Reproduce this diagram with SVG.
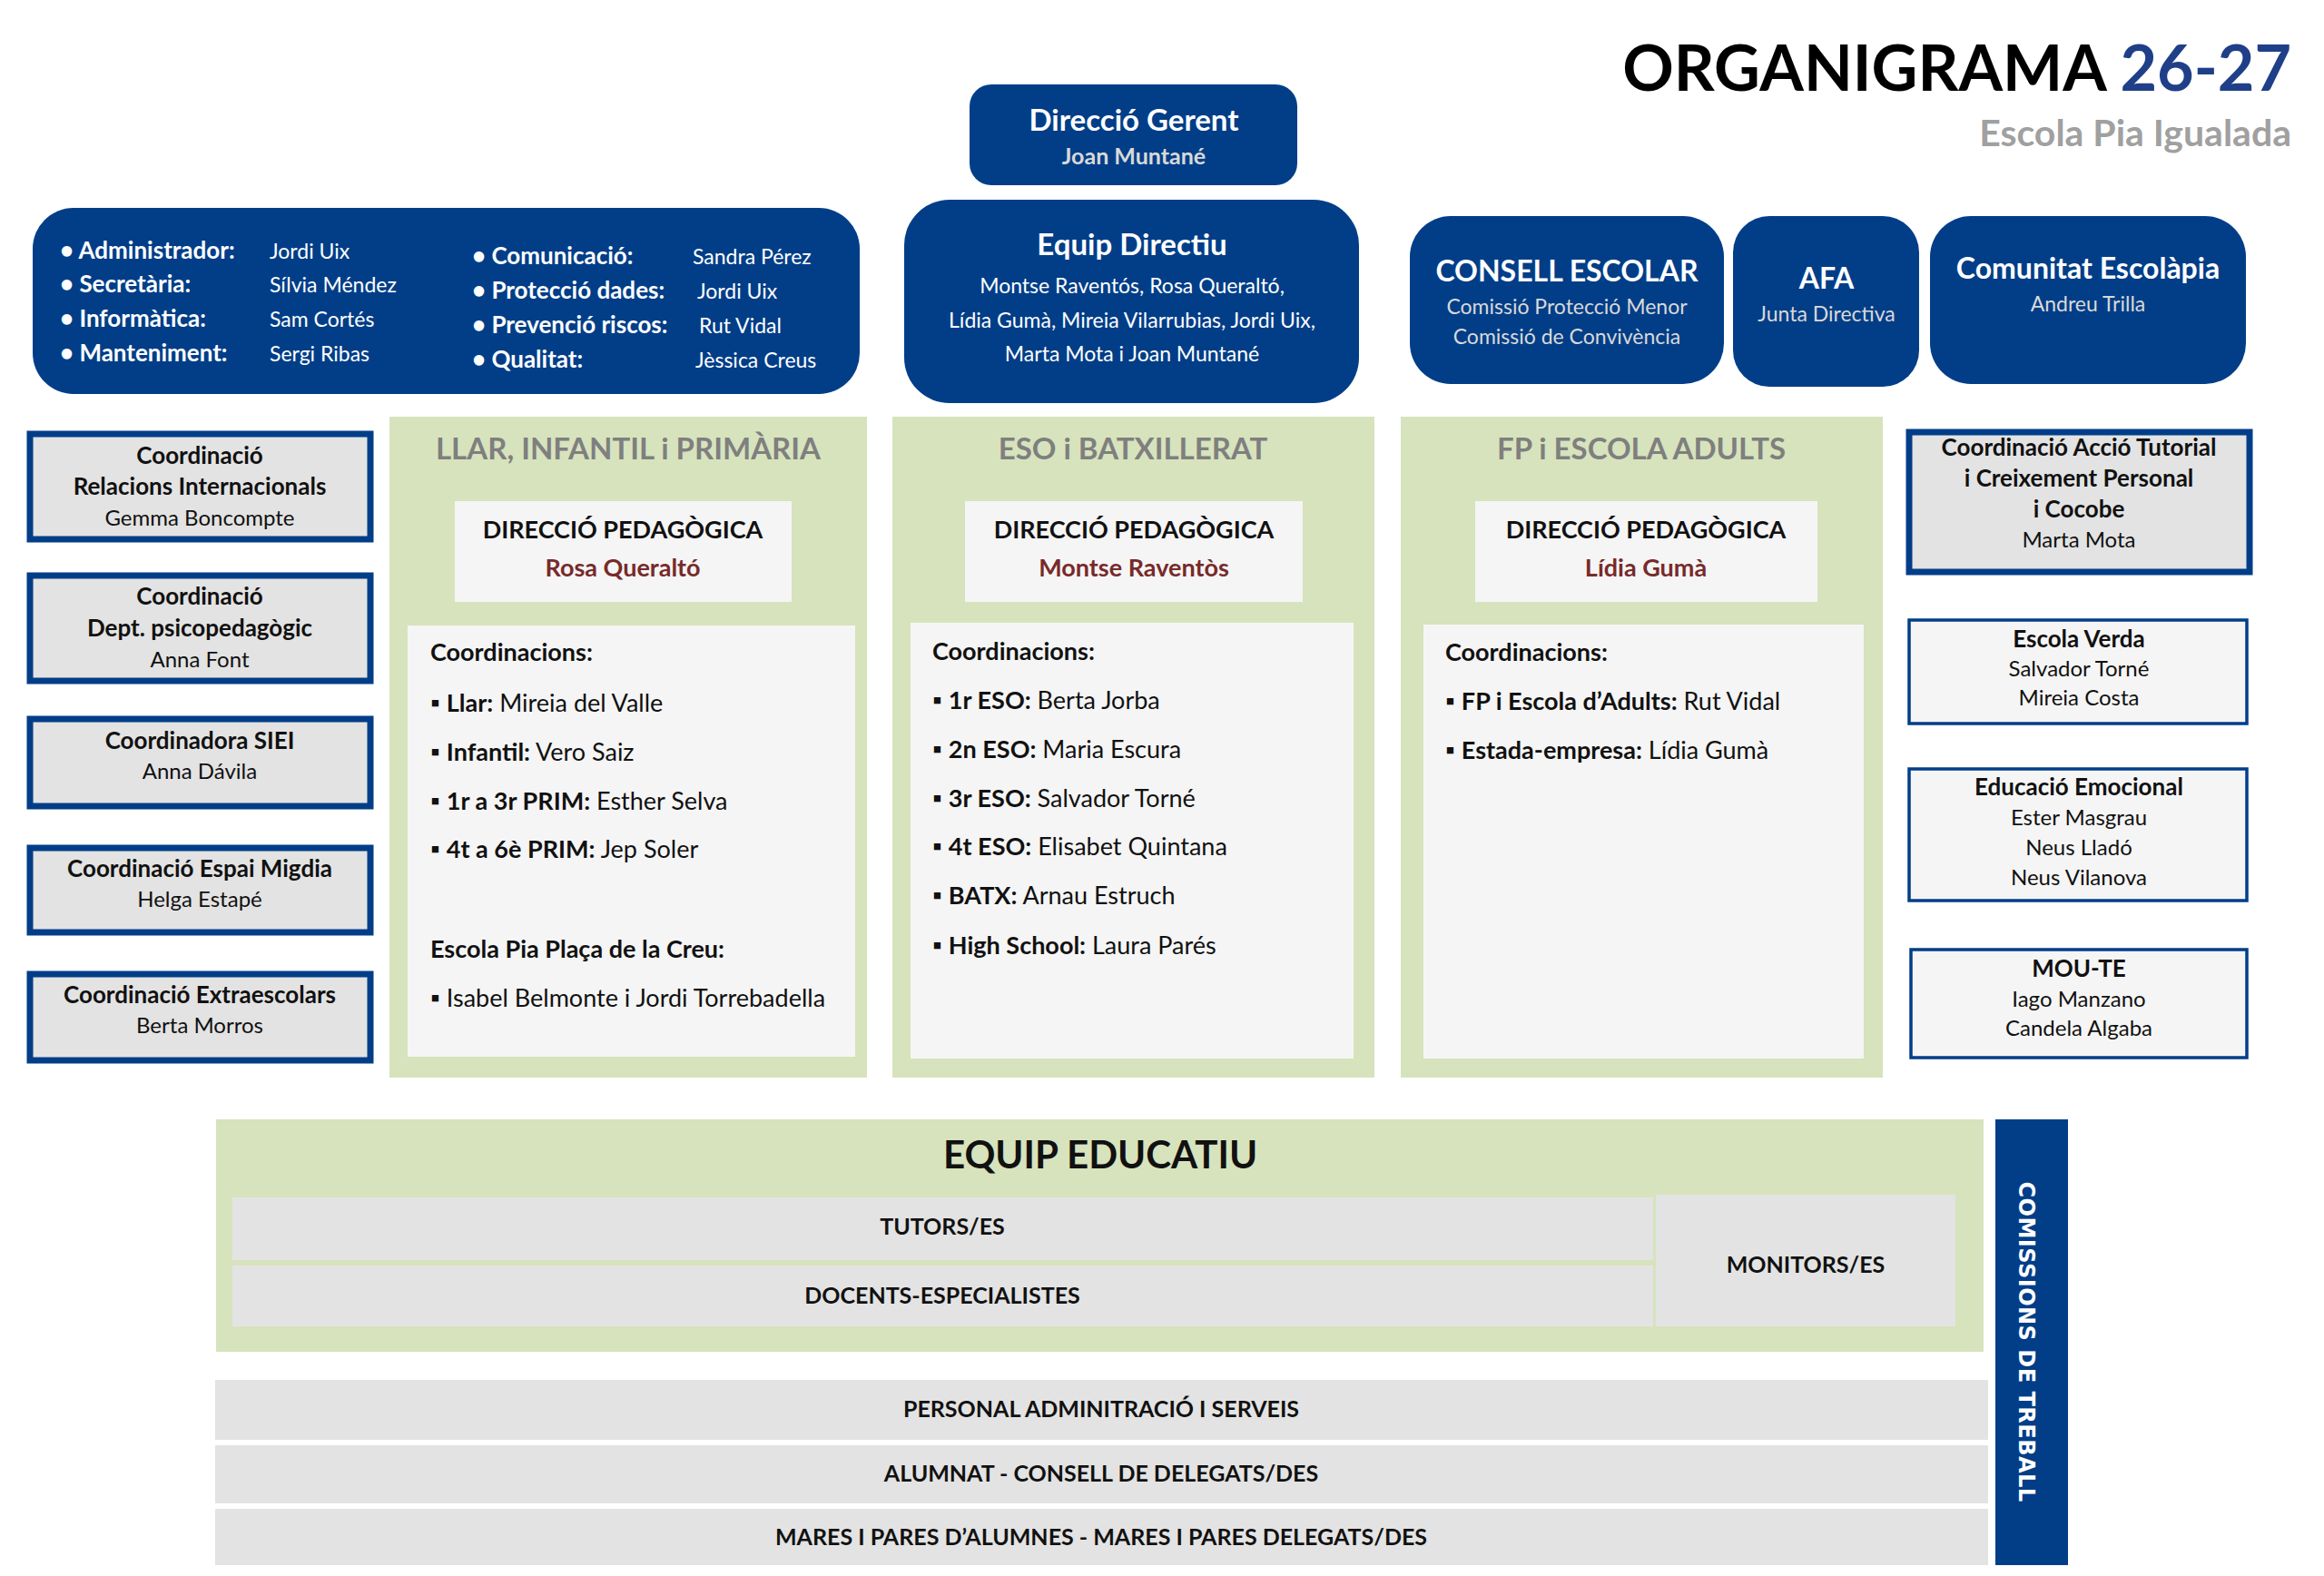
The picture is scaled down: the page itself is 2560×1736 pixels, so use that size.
<svg xmlns="http://www.w3.org/2000/svg" width="2560" height="1736" viewBox="0 0 2560 1736">
<style>
text{font-family:Lato,"Liberation Sans",sans-serif}
.blue{fill:#023e88}
.w{fill:#fff}
.lg{fill:#d9d9d9}
.b{font-weight:bold}
.c{text-anchor:middle}
.green{fill:#d7e3bc}
.pan{fill:#f5f5f5}
.hd{fill:#7f7f7f;font-weight:bold;font-size:33px;text-anchor:middle}
.dp{font-weight:bold;font-size:27px;text-anchor:middle;fill:#111}
.dn{font-weight:bold;font-size:27px;text-anchor:middle;fill:#772a2a}
.it{font-size:27px;fill:#111}
.lc{fill:#e3e3e3;stroke:#023e88;stroke-width:7}
.rc{fill:#f5f5f5;stroke:#023e88;stroke-width:3.5}
.bt{font-size:26px;font-weight:bold;fill:#111;text-anchor:middle}
.nt{font-size:24px;fill:#111;text-anchor:middle}
.gr{fill:#e3e3e3}
.bar{font-size:25px;font-weight:bold;fill:#111;text-anchor:middle}
</style>
<rect width="2560" height="1736" fill="#fff"/>
<g id="title">
<text x="2524" y="100" font-size="70" font-weight="bold" text-anchor="end" fill="#000">ORGANIGRAMA <tspan fill="#1f3f88">26-27</tspan></text>
<text x="2524" y="161" font-size="41" font-weight="bold" text-anchor="end" fill="#a0a0a0">Escola Pia Igualada</text>
</g>
<g id="direccio-gerent">
<rect x="1068" y="93" width="361" height="111" rx="24" class="blue"/>
<text x="1249" y="144" font-size="33" class="w b c">Direcció Gerent</text>
<text x="1249" y="181" font-size="25" class="lg b c">Joan Muntané</text>
</g>
<g id="administracio">
<rect x="36" y="229" width="911" height="205" rx="45" class="blue"/>
<g font-size="26" class="w b">
<text x="66" y="285">• Administrador:</text>
<text x="66" y="322">• Secretària:</text>
<text x="66" y="360">• Informàtica:</text>
<text x="66" y="398">• Manteniment:</text>
<text x="520" y="291">• Comunicació:</text>
<text x="520" y="329">• Protecció dades:</text>
<text x="520" y="367">• Prevenció riscos:</text>
<text x="520" y="405">• Qualitat:</text>
</g>
<g font-size="23" class="w">
<text x="297" y="285">Jordi Uix</text>
<text x="297" y="322">Sílvia Méndez</text>
<text x="297" y="360">Sam Cortés</text>
<text x="297" y="398">Sergi Ribas</text>
<text x="763" y="291">Sandra Pérez</text>
<text x="768" y="329">Jordi Uix</text>
<text x="770" y="367">Rut Vidal</text>
<text x="766" y="405">Jèssica Creus</text>
</g>
</g>
<g id="equip-directiu">
<rect x="996" y="220" width="501" height="224" rx="50" class="blue"/>
<text x="1247" y="281" font-size="33" class="w b c">Equip Directiu</text>
<text x="1247" y="323" font-size="23" class="w c">Montse Raventós,  Rosa Queraltó,</text>
<text x="1247" y="361" font-size="23" class="w c">Lídia Gumà, Mireia Vilarrubias, Jordi Uix,</text>
<text x="1247" y="398" font-size="23" class="w c">Marta Mota i Joan Muntané</text>
</g>
<g id="consell-escolar">
<rect x="1553" y="238" width="346" height="185" rx="45" class="blue"/>
<text x="1726" y="310" font-size="32" class="w b c">CONSELL ESCOLAR</text>
<text x="1726" y="346" font-size="23" class="lg c">Comissió Protecció Menor</text>
<text x="1726" y="379" font-size="23" class="lg c">Comissió de Convivència</text>
</g>
<g id="afa">
<rect x="1909" y="238" width="205" height="188" rx="40" class="blue"/>
<text x="2012" y="318" font-size="32" class="w b c">AFA</text>
<text x="2012" y="354" font-size="23" class="lg c">Junta Directiva</text>
</g>
<g id="comunitat">
<rect x="2126" y="238" width="348" height="185" rx="45" class="blue"/>
<text x="2300" y="307" font-size="32" class="w b c">Comunitat Escolàpia</text>
<text x="2300" y="343" font-size="23" class="lg c">Andreu Trilla</text>
</g>
<g id="llar">
<rect x="429" y="459" width="526" height="728" class="green"/>
<text x="692" y="506" class="hd">LLAR, INFANTIL i PRIMÀRIA</text>
<rect x="501" y="552" width="371" height="111" class="pan"/>
<text x="686" y="593" class="dp">DIRECCIÓ PEDAGÒGICA</text>
<text x="686" y="635" class="dn">Rosa Queraltó</text>
<rect x="449" y="689" width="493" height="475" class="pan"/>
<g class="it">
<text x="474" y="728" font-weight="bold">Coordinacions:</text>
<text x="474" y="784">▪ <tspan font-weight="bold">Llar:</tspan> Mireia del Valle</text>
<text x="474" y="838">▪ <tspan font-weight="bold">Infantil:</tspan> Vero Saiz</text>
<text x="474" y="892">▪ <tspan font-weight="bold">1r a 3r PRIM:</tspan> Esther Selva</text>
<text x="474" y="945">▪ <tspan font-weight="bold">4t a 6è PRIM:</tspan>  Jep Soler</text>
<text x="474" y="1055" font-weight="bold">Escola Pia Plaça de la Creu:</text>
<text x="474" y="1109">▪ Isabel Belmonte i Jordi Torrebadella</text>
</g>
</g>
<g id="eso">
<rect x="983" y="459" width="531" height="728" class="green"/>
<text x="1248" y="506" class="hd">ESO i BATXILLERAT</text>
<rect x="1063" y="552" width="372" height="111" class="pan"/>
<text x="1249" y="593" class="dp">DIRECCIÓ PEDAGÒGICA</text>
<text x="1249" y="635" class="dn">Montse Raventòs</text>
<rect x="1003" y="686" width="488" height="480" class="pan"/>
<g class="it">
<text x="1027" y="727" font-weight="bold">Coordinacions:</text>
<text x="1027" y="781">▪ <tspan font-weight="bold">1r ESO:</tspan>  Berta Jorba</text>
<text x="1027" y="835">▪ <tspan font-weight="bold">2n ESO:</tspan> Maria Escura</text>
<text x="1027" y="889">▪ <tspan font-weight="bold">3r ESO:</tspan>  Salvador Torné</text>
<text x="1027" y="942">▪ <tspan font-weight="bold">4t ESO:</tspan>  Elisabet Quintana</text>
<text x="1027" y="996">▪ <tspan font-weight="bold">BATX:</tspan> Arnau Estruch</text>
<text x="1027" y="1051">▪ <tspan font-weight="bold">High School:</tspan> Laura Parés</text>
</g>
</g>
<g id="fp">
<rect x="1543" y="459" width="531" height="728" class="green"/>
<text x="1808" y="506" class="hd">FP i ESCOLA ADULTS</text>
<rect x="1625" y="552" width="377" height="111" class="pan"/>
<text x="1813" y="593" class="dp">DIRECCIÓ PEDAGÒGICA</text>
<text x="1813" y="635" class="dn">Lídia Gumà</text>
<rect x="1568" y="688" width="485" height="478" class="pan"/>
<g class="it">
<text x="1592" y="728" font-weight="bold">Coordinacions:</text>
<text x="1592" y="782">▪ <tspan font-weight="bold">FP i Escola d’Adults:</tspan> Rut Vidal</text>
<text x="1592" y="836">▪ <tspan font-weight="bold">Estada-empresa:</tspan> Lídia Gumà</text>
</g>
</g>
<g id="coord-ri">
<rect x="33" y="478" width="375" height="116" class="lc"/>
<text x="220" y="511" class="bt">Coordinació</text>
<text x="220" y="545" class="bt">Relacions Internacionals</text>
<text x="220" y="579" class="nt">Gemma Boncompte</text>
</g>
<g id="coord-psico">
<rect x="33" y="634" width="375" height="116" class="lc"/>
<text x="220" y="666" class="bt">Coordinació</text>
<text x="220" y="701" class="bt">Dept. psicopedagògic</text>
<text x="220" y="735" class="nt">Anna Font</text>
</g>
<g id="coord-siei">
<rect x="33" y="792" width="375" height="96" class="lc"/>
<text x="220" y="825" class="bt">Coordinadora SIEI</text>
<text x="220" y="858" class="nt">Anna Dávila</text>
</g>
<g id="coord-migdia">
<rect x="33" y="934" width="375" height="93" class="lc"/>
<text x="220" y="966" class="bt">Coordinació Espai Migdia</text>
<text x="220" y="999" class="nt">Helga Estapé</text>
</g>
<g id="coord-extra">
<rect x="33" y="1073" width="375" height="95" class="lc"/>
<text x="220" y="1105" class="bt">Coordinació Extraescolars</text>
<text x="220" y="1138" class="nt">Berta Morros</text>
</g>
<g id="coord-tutorial">
<rect x="2103" y="476" width="375" height="154" class="lc"/>
<text x="2290" y="502" class="bt" font-size="24">Coordinació Acció Tutorial</text>
<text x="2290" y="536" class="bt" font-size="24">i Creixement Personal</text>
<text x="2290" y="570" class="bt" font-size="24">i Cocobe</text>
<text x="2290" y="603" class="nt">Marta Mota</text>
</g>
<g id="escola-verda">
<rect x="2103" y="683" width="372" height="114" class="rc"/>
<text x="2290" y="713" class="bt">Escola Verda</text>
<text x="2290" y="745" class="nt">Salvador Torné</text>
<text x="2290" y="777" class="nt">Mireia Costa</text>
</g>
<g id="educacio-emocional">
<rect x="2103" y="847" width="372" height="145" class="rc"/>
<text x="2290" y="876" class="bt">Educació Emocional</text>
<text x="2290" y="909" class="nt">Ester Masgrau</text>
<text x="2290" y="942" class="nt">Neus Lladó</text>
<text x="2290" y="975" class="nt">Neus Vilanova</text>
</g>
<g id="mou-te">
<rect x="2105" y="1046" width="370" height="119" class="rc"/>
<text x="2290" y="1076" class="bt">MOU-TE</text>
<text x="2290" y="1109" class="nt">Iago Manzano</text>
<text x="2290" y="1141" class="nt">Candela Algaba</text>
</g>
<g id="equip-educatiu">
<rect x="238" y="1233" width="1947" height="256" class="green"/>
<text x="1212" y="1287" font-size="42" class="b c" fill="#111">EQUIP EDUCATIU</text>
<rect x="256" y="1319" width="1565" height="69" class="gr"/>
<text x="1038" y="1360" class="bar">TUTORS/ES</text>
<rect x="256" y="1394" width="1565" height="67" class="gr"/>
<text x="1038" y="1436" class="bar">DOCENTS-ESPECIALISTES</text>
<rect x="1824" y="1316" width="330" height="145" class="gr"/>
<text x="1989" y="1402" class="bar">MONITORS/ES</text>
</g>
<g id="pas">
<rect x="237" y="1520" width="1953" height="66" class="gr"/>
<text x="1213" y="1561" class="bar">PERSONAL ADMINITRACIÓ I SERVEIS</text>
</g>
<g id="alumnat">
<rect x="237" y="1592" width="1953" height="64" class="gr"/>
<text x="1213" y="1632" class="bar">ALUMNAT - CONSELL DE DELEGATS/DES</text>
</g>
<g id="families">
<rect x="237" y="1662" width="1953" height="62" class="gr"/>
<text x="1213" y="1702" class="bar">MARES I PARES D’ALUMNES - MARES I PARES DELEGATS/DES</text>
</g>
<g id="comissions">
<rect x="2198" y="1233" width="80" height="491" class="blue"/>
<text transform="translate(2224 1478) rotate(90)" style="font-family:'DejaVu Sans',sans-serif" font-size="24" font-weight="bold" class="w c" letter-spacing="0.5">COMISSIONS DE TREBALL</text>
</g>
<g id="connectors"></g>
</svg>
